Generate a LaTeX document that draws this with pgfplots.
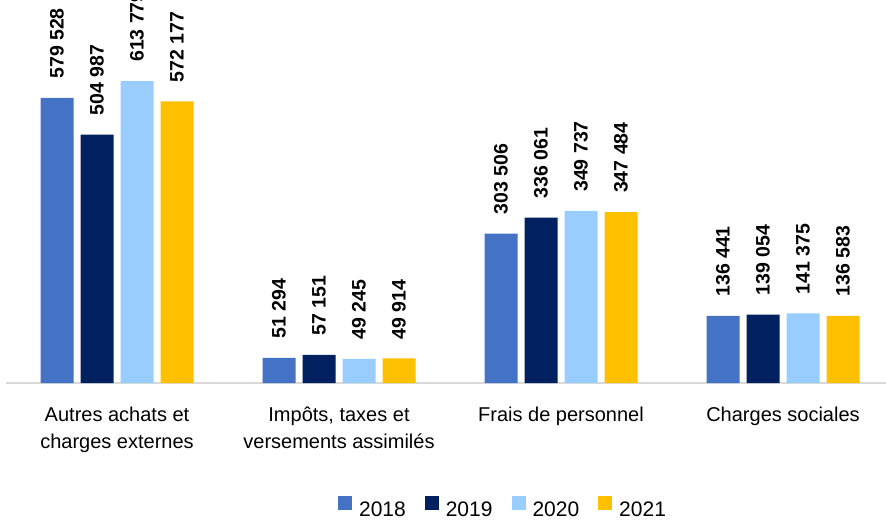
\documentclass[border=0pt]{standalone}
\usepackage{pgfplots}
\pgfplotsset{compat=1.18}
\usepackage{fontspec}
\setmainfont{Liberation Sans}
\definecolor{cA}{HTML}{4472C4}
\definecolor{cB}{HTML}{002060}
\definecolor{cC}{HTML}{99CCFF}
\definecolor{cD}{HTML}{FFC000}
\definecolor{axgray}{HTML}{D9D9D9}
\begin{document}
\begin{tikzpicture}
\begin{axis}[
  scale only axis, width=888pt, height=383.76pt,
  xmin=-0.5, xmax=3.5, ymin=0, ymax=780000,
  enlargelimits=false, clip=false,
  ybar=7pt, bar width=33pt,
  axis x line*=bottom, hide y axis,
  axis line style={-},
  x axis line style={draw=axgray, line width=2.5pt},
  xtick={0,1,2,3}, major tick length=0pt, xtick style={draw=none},
  xticklabels={{Autres achats et\\charges externes},{Impôts, taxes et\\versements assimilés},{Frais de personnel},{Charges sociales}},
  xticklabel style={font=\fontsize{20}{27}\selectfont, align=center, anchor=north, inner sep=0pt, yshift=-24pt},
  nodes near coords={\pgfmathprintnumber[fixed,precision=0,1000 sep={\ },assume math mode=true]{\pgfplotspointmeta}},
  every node near coord/.append style={rotate=90, anchor=west, inner xsep=19pt, inner ysep=0pt, font=\fontsize{19.5}{20}\selectfont\bfseries, text=black},
  legend columns=4,
  legend style={at={(axis description cs:0.5586,-0.323)}, anchor=center, draw=none, fill=none,
    font=\fontsize{21}{25}\selectfont, nodes={inner sep=0pt},
    /tikz/every odd column/.append style={column sep=7pt},
    /tikz/every even column/.append style={column sep=19pt}},
  legend image code/.code={\fill[#1, draw=none] (0pt,0pt) rectangle (14pt,14pt);},
]
\addplot[fill=cA, draw=none] coordinates {(0,579528) (1,51294) (2,303506) (3,136441)};
\addplot[fill=cB, draw=none] coordinates {(0,504987) (1,57151) (2,336061) (3,139054)};
\addplot[fill=cC, draw=none] coordinates {(0,613779) (1,49245) (2,349737) (3,141375)};
\addplot[fill=cD, draw=none] coordinates {(0,572177) (1,49914) (2,347484) (3,136583)};
\legend{2018,2019,2020,2021}
\end{axis}
\pgfresetboundingbox
\useasboundingbox (-6pt,-142pt) rectangle (880pt,383pt);
\end{tikzpicture}
\end{document}
